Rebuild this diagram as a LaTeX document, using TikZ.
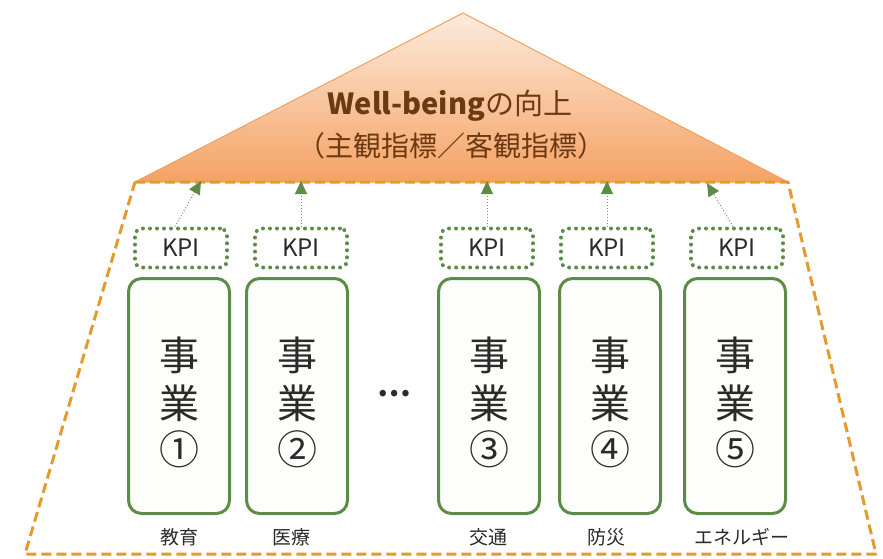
\documentclass[tikz,border=0pt]{standalone}
\usepackage{fontspec}
\setmainfont{Noto Sans CJK JP}
\usetikzlibrary{arrows.meta,shapes.geometric}
\definecolor{peachtop}{HTML}{FDEBDC}
\definecolor{peachbot}{HTML}{F5A264}
\definecolor{triline}{HTML}{F0A060}
\definecolor{trapline}{HTML}{E39A2E}
\definecolor{grn}{HTML}{5C8C46}
\definecolor{grnfill}{HTML}{FDFEFB}
\definecolor{brn}{HTML}{6B3A12}
\definecolor{txt}{HTML}{2A2A2A}
\definecolor{arrline}{HTML}{7E8C7E}
\begin{document}
\begin{tikzpicture}[x=1pt,y=-1pt,
  trap/.style={draw=trapline,line width=3pt,dash pattern=on 10pt off 5pt,line join=round},
  kpibox/.style={draw=grn,line width=4pt,dash pattern=on 0pt off 7pt,line cap=round,rounded corners=7pt,minimum width=92pt,minimum height=39pt,inner sep=0pt,font=\fontsize{24}{24}\selectfont,text=txt},
  bizbox/.style={draw=grn,line width=3pt,fill=grnfill,rounded corners=13pt,minimum width=101pt,minimum height=235pt,inner sep=0pt},
  bigchar/.style={font=\fontsize{40}{40}\selectfont,text=txt,inner sep=0pt},
  lab/.style={font=\fontsize{19}{19}\selectfont,text=txt,inner sep=0pt},
  kpiarrow/.style={draw=arrline,line width=1pt,dotted,-{Triangle[length=13pt,width=12pt,fill=grn,color=grn,sep=0pt]}}
]
\useasboundingbox (0,0) rectangle (883,559);
% roof triangle
\shade[top color=peachtop,bottom color=peachbot,draw=triline,line width=1pt] (463,13) -- (788,182) -- (135,182) -- cycle;
% trapezoid
\draw[trap] (135,182) -- (788,182) -- (876,554) -- (25,554) -- cycle;
% title
\node[text=brn,font=\fontsize{29}{29}\selectfont,inner sep=0pt] (t1) at (450,106) {\bfseries Well-being\mdseries の向上};
\node[text=brn,font=\fontsize{28}{28}\selectfont,inner sep=0pt] (t2) at (451,146) {（主観指標／客観指標）};
% KPI boxes
\node[kpibox] (k1) at (181,248) {KPI};
\node[kpibox] (k2) at (301,248) {KPI};
\node[kpibox] (k3) at (487,248) {KPI};
\node[kpibox] (k4) at (607,248) {KPI};
\node[kpibox] (k5) at (737,248) {KPI};
% arrow targets on the roof base
\coordinate (a1) at (201,181);
\coordinate (a2) at (301,181);
\coordinate (a3) at (487,181);
\coordinate (a4) at (607,181);
\coordinate (a5) at (707,183);
\draw[kpiarrow] ([xshift=-6pt]k1.north) -- (a1);
\draw[kpiarrow] (k2.north) -- (a2);
\draw[kpiarrow] (k3.north) -- (a3);
\draw[kpiarrow] (k4.north) -- (a4);
\draw[kpiarrow] ([xshift=-4pt]k5.north) -- (a5);
% business boxes
\node[bizbox] (b1) at (179,396) {};
\node[bizbox] (b2) at (297,396) {};
\node[bizbox] (b3) at (489,396) {};
\node[bizbox] (b4) at (610,396) {};
\node[bizbox] (b5) at (735,396) {};
\foreach \b/\n in {b1/①,b2/②,b3/③,b4/④,b5/⑤}{
  \node[bigchar] (\b-c1) at ([yshift=41pt]\b.center) {事};
  \node[bigchar] (\b-c2) at ([yshift=-7pt]\b.center) {業};
  \node[bigchar] (\b-c3) at ([yshift=-53pt]\b.center) {\n};
}
\node[font=\fontsize{30}{30}\selectfont\bfseries,text=txt,inner sep=0pt] (dots) at (394,394) {…};
% labels
\node[lab] (l1) at (179,537) {教育};
\node[lab] (l2) at (291,537) {医療};
\node[lab] (l3) at (488,537) {交通};
\node[lab] (l4) at (606,537) {防災};
\node[lab] (l5) at (742,537) {エネルギー};
\end{tikzpicture}
\end{document}
